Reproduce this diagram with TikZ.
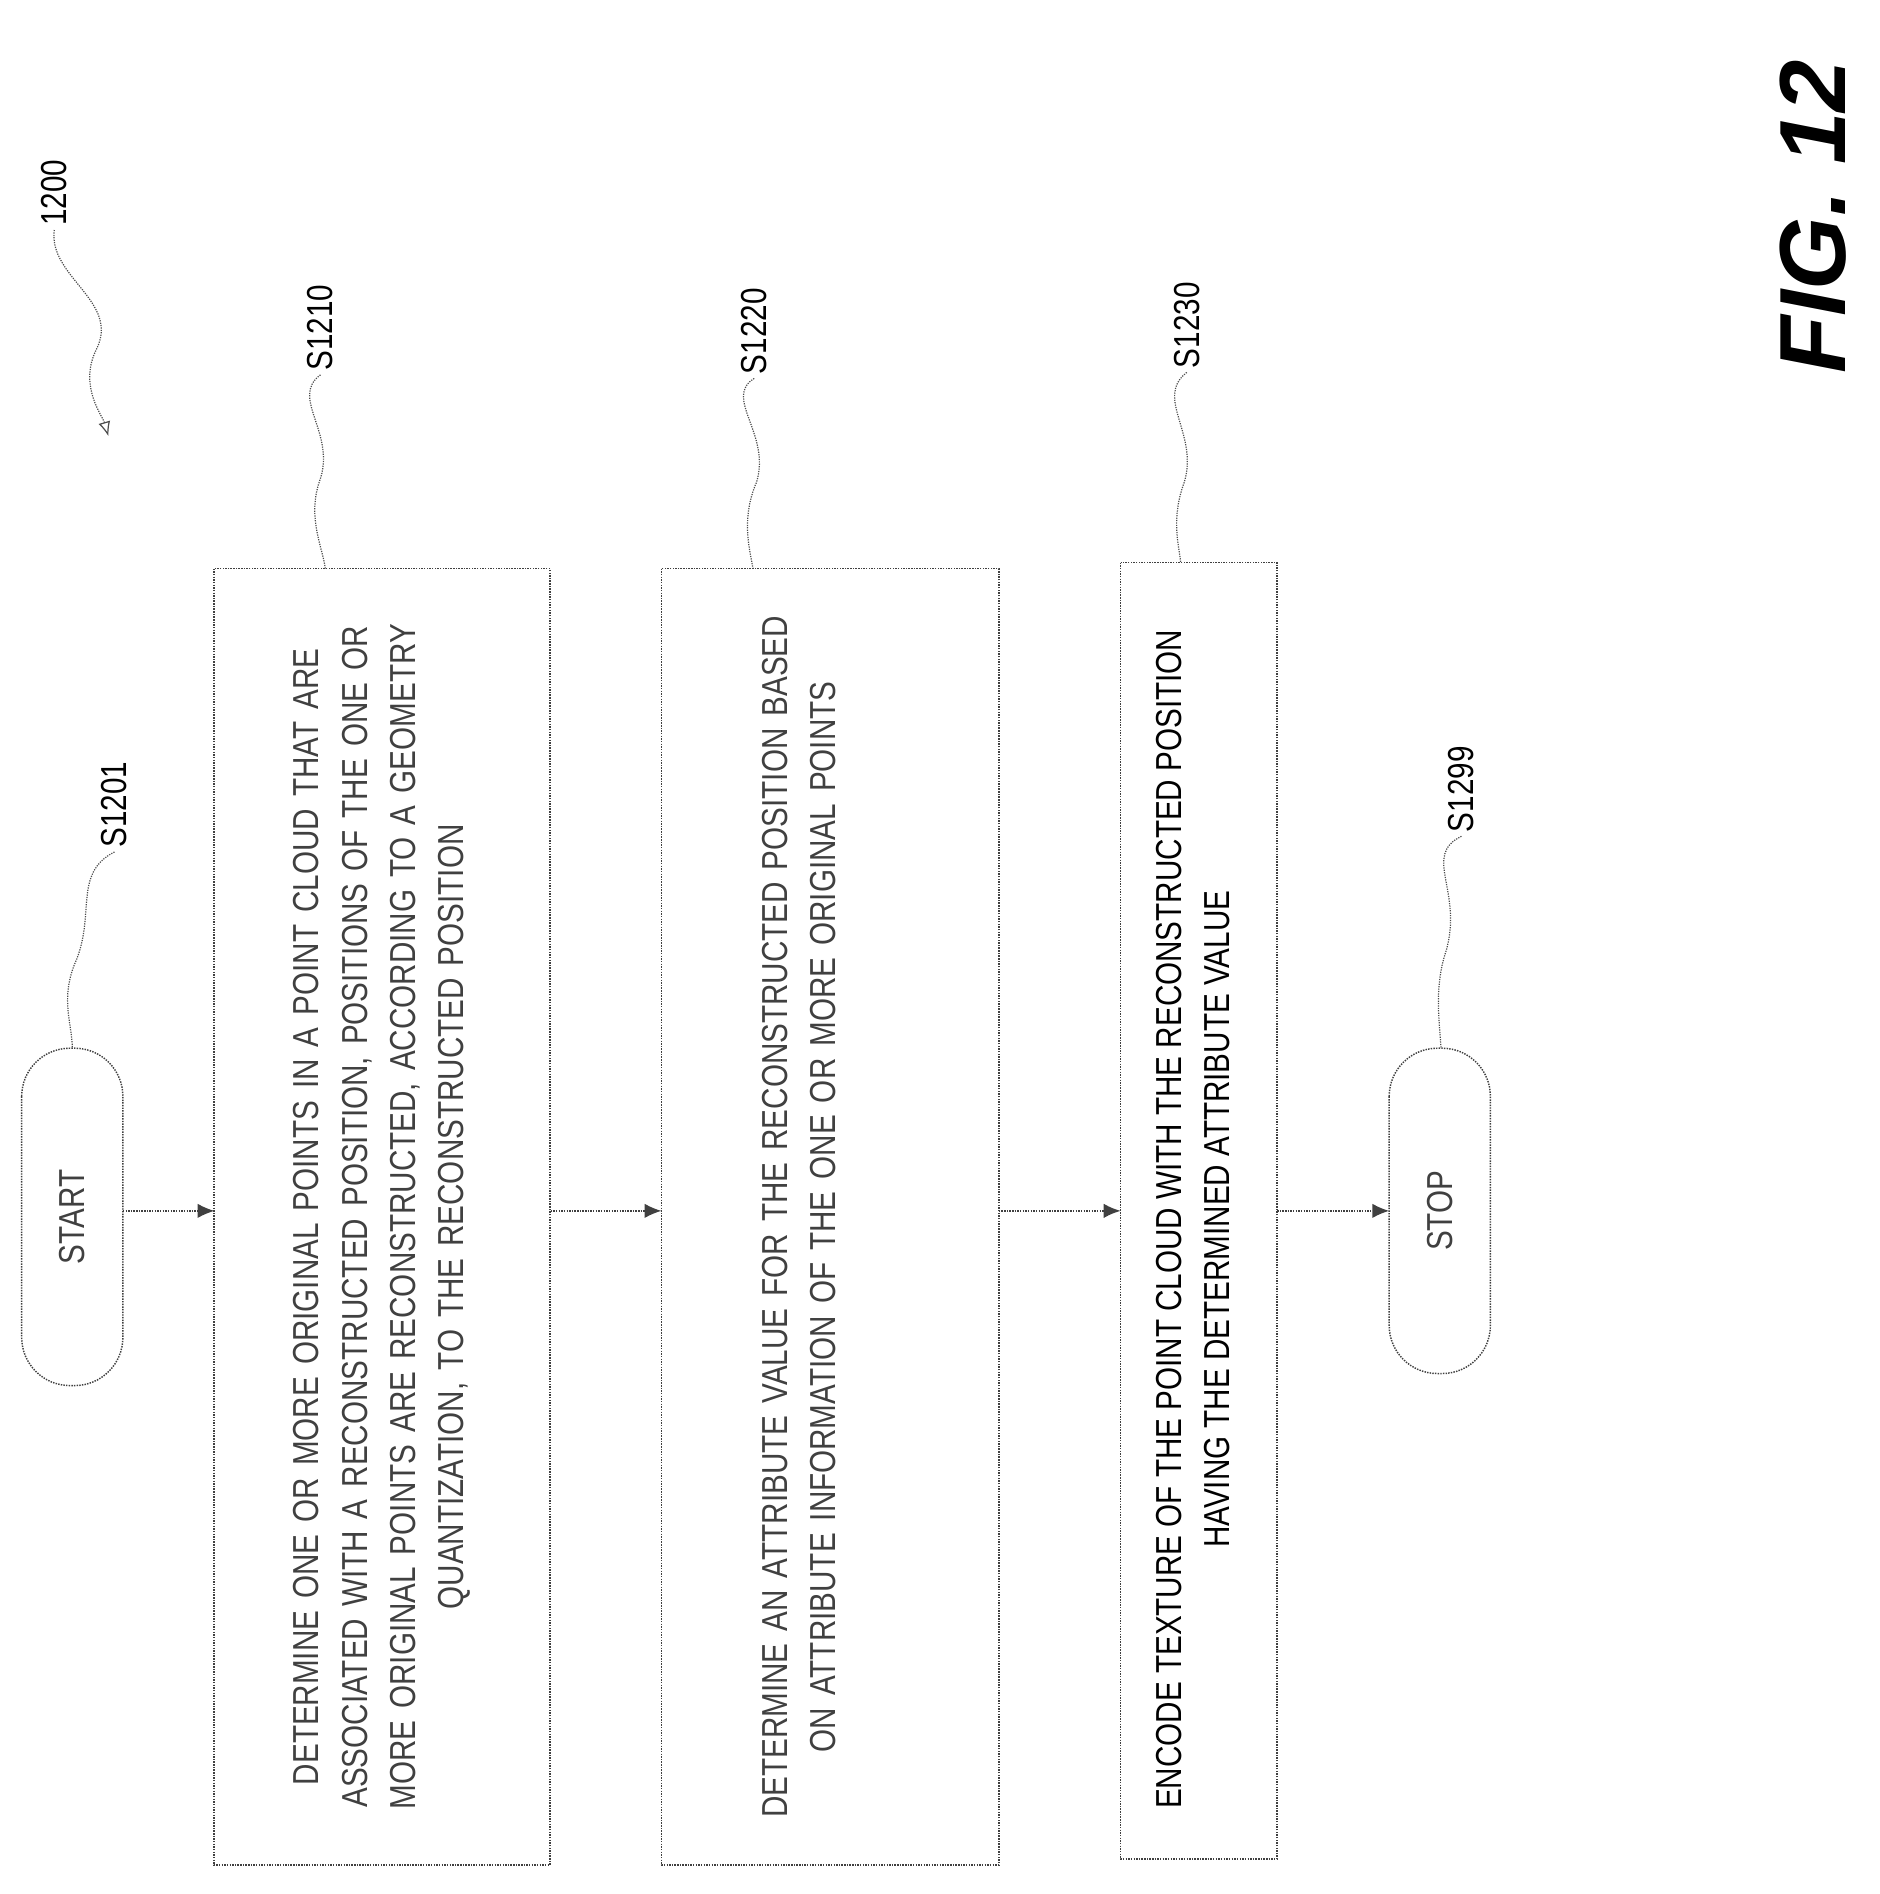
\documentclass[tikz,border=0pt]{standalone}
\usepackage{fontspec}
\usetikzlibrary{arrows.meta}
\newfontfamily\cond[FakeStretch=0.82]{Liberation Sans}
\tikzset{
 ln/.style={densely dotted,line width=1.2pt,black!75},
 box/.style={ln,rotate=90,draw,align=center,font=\cond\fontsize{30}{40}\selectfont,inner sep=0pt},
 term/.style={ln,rotate=90,draw,rounded corners=40pt,minimum height=84pt,font=\cond\fontsize{30}{36}\selectfont},
 lbl/.style={rotate=90,font=\cond\fontsize{30}{36}\selectfont},
 arr/.style={ln,-{Latex[length=14pt,width=12pt]}},
 sq/.style={densely dotted,line width=1pt,black!70}
}
\begin{document}
\begin{tikzpicture}[x=1pt,y=-1pt]
\useasboundingbox (0,0) rectangle (1560,1572);
\node[term,minimum width=280pt] (start) at (60,1010) {START};
\node[box,minimum width=1076pt,minimum height=279pt,text width=1060pt] (b1) at (317,1010) {DETERMINE ONE OR MORE ORIGINAL POINTS IN A POINT CLOUD THAT ARE\\ ASSOCIATED WITH A RECONSTRUCTED POSITION, POSITIONS OF THE ONE OR\\ MORE ORIGINAL POINTS ARE RECONSTRUCTED, ACCORDING TO A GEOMETRY\\ QUANTIZATION, TO THE RECONSTRUCTED POSITION};
\node[box,minimum width=1076pt,minimum height=280pt,text width=1060pt] (b2) at (689,1010) {DETERMINE AN ATTRIBUTE VALUE FOR THE RECONSTRUCTED POSITION BASED\\ ON ATTRIBUTE INFORMATION OF THE ONE OR MORE ORIGINAL POINTS\\ \strut};
\node[ln,rotate=90,draw,minimum width=1076pt,minimum height=130pt,inner sep=0pt] (b3) at (995,1005) {};
\node[rotate=90,align=center,font=\cond\fontsize{30}{40}\selectfont] (t3) at (990,1012) {ENCODE TEXTURE OF THE POINT CLOUD WITH THE RECONSTRUCTED POSITION\\ HAVING THE DETERMINED ATTRIBUTE VALUE};
\node[term,minimum width=270pt] (stop) at (1195,1005) {STOP};
\draw[arr] (102,1005) -- (178,1005);
\draw[arr] (457,1005) -- (549,1005);
\draw[arr] (829,1005) -- (930,1005);
\draw[arr] (1060,1005) -- (1153,1005);
\node[lbl] (l1201) at (95,668) {S1201};
\node[lbl] (l1210) at (266,272) {S1210};
\node[lbl] (l1220) at (626,275) {S1220};
\node[lbl] (l1230) at (985,270) {S1230};
\node[lbl] (l1299) at (1213,655) {S1299};
\node[lbl] (l1200) at (45,160) {1200};
\draw[sq] (l1201.west) .. controls (60,725) and (80,760) .. (62,800) .. controls (50,830) and (60,850) .. (60,870);
\draw[sq] (l1210.west) .. controls (240,330) and (280,360) .. (265,400) .. controls (255,430) and (268,455) .. (270,472);
\draw[sq] (l1220.west) .. controls (600,330) and (640,360) .. (628,400) .. controls (615,430) and (622,455) .. (625,472);
\draw[sq] (l1230.west) .. controls (958,330) and (995,360) .. (983,400) .. controls (972,430) and (978,450) .. (980,467);
\draw[sq] (l1299.west) .. controls (1180,710) and (1215,740) .. (1200,790) .. controls (1190,820) and (1195,850) .. (1196,870);
\draw[sq,-{Latex[open,length=12pt,width=10pt]}] (l1200.west) .. controls (40,230) and (100,250) .. (80,290) .. controls (65,320) and (85,345) .. (90,362);
\node[rotate=90,font=\fontspec{Liberation Sans}\bfseries\itshape\fontsize{78}{80}\selectfont] (fig) at (1505,180) {FIG. 12};
\end{tikzpicture}
\end{document}
